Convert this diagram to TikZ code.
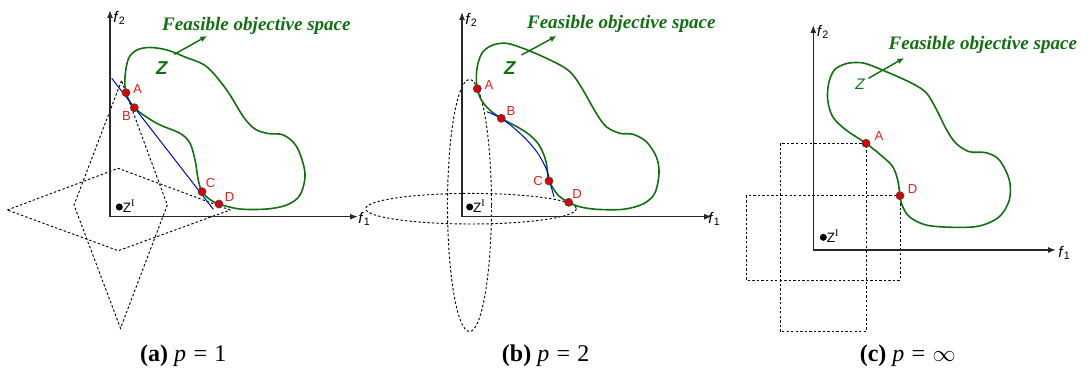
\documentclass[tikz,border=0pt]{standalone}
\usepackage{fontspec}
\setmainfont{Liberation Serif}
\setsansfont{Liberation Sans}
\usetikzlibrary{arrows.meta}
\definecolor{fgreen}{RGB}{18,112,18}
\definecolor{ptred}{RGB}{220,0,0}
\definecolor{labred}{RGB}{235,30,30}
\definecolor{axcol}{RGB}{40,40,40}
\definecolor{lblue}{RGB}{0,0,230}
\tikzset{
  ax/.style={draw=axcol, line width=1pt, -{Latex[length=6pt,width=4.5pt]}},
  feas/.style={draw=fgreen, line width=1.2pt},
  dsh/.style={draw=black, line width=0.7pt, dash pattern=on 1.8pt off 1.6pt},
  dot/.style={circle, draw=black!75, fill=ptred, inner sep=0pt, minimum size=6pt, line width=0.5pt},
  lab/.style={text=labred, font=\sffamily\fontsize{9.8}{11}\selectfont, inner sep=0pt},
  ftext/.style={text=fgreen, font=\bfseries\itshape\fontsize{14.3}{16}\selectfont, inner sep=0pt, anchor=base},
  zbig/.style={text=fgreen, font=\sffamily\bfseries\itshape\fontsize{14}{15}\selectfont, inner sep=0pt},
  zsmall/.style={text=fgreen, font=\sffamily\itshape\fontsize{11.5}{13}\selectfont, inner sep=0pt},
  garrow/.style={draw=fgreen, line width=1.1pt, -{Latex[length=5pt,width=4.5pt]}},
  idot/.style={circle, fill=black, inner sep=0pt, minimum size=5.3pt},
  ilab/.style={font=\sffamily\fontsize{10.2}{12}\selectfont, inner sep=0pt, anchor=west},
  flab/.style={font=\sffamily\fontsize{11.5}{13}\selectfont, inner sep=0pt},
  capt/.style={font=\fontsize{18}{20}\selectfont, inner sep=0pt, anchor=base},
  bl/.style={draw=lblue, line width=0.75pt}
}
\newcommand{\fa}[1]{\textit{f}\textsubscript{#1}}
\newcommand{\zi}{Z\raisebox{0.42em}{\rmfamily\fontsize{7.6}{8}\selectfont I}}
\begin{document}
\begin{tikzpicture}[x=0.75pt,y=-0.75pt]
\useasboundingbox (0,0) rectangle (1089,374);
% ================= panel (a) =================
\coordinate (oa) at (110,216.7);
\coordinate (ya) at (110,10);
\coordinate (xa) at (358,216.7);
% dashed diamonds
\coordinate (ta1) at (121.5,80.7);
\coordinate (ta2) at (74,205);
\coordinate (ta3) at (120.5,328.3);
\coordinate (ta4) at (167.3,205);
\draw[dsh] (ta1) -- (ta2) -- (ta3) -- (ta4) -- cycle;
\coordinate (wa1) at (7.3,210);
\coordinate (wa2) at (118.3,168.3);
\coordinate (wa3) at (230,210);
\coordinate (wa4) at (118.3,250.7);
\draw[dsh] (wa1) -- (wa2) -- (wa3) -- (wa4) -- cycle;
\draw[ax] (oa) -- (ya);
\draw[ax] (oa) -- (xa);
\node[flab, anchor=south west] (f2a) at (113,25) {\fa{2}};
\node[flab, anchor=west] (f1a) at (358,219) {\fa{1}};
\draw[feas] plot[smooth cycle, tension=0.55] coordinates {
 (126,92.7) (125,77) (128.5,58.5) (137,50) (150,47.5) (167,50) (185,57) (206.7,66.7)
 (226.7,90) (243.3,116.7) (255,129) (268,133.5) (283.3,135) (296.7,146.7) (305,173.3)
 (300,195) (286.7,205) (266.7,209) (240,209) (219,204) (210,199.5) (202,191.7) (198.3,180)
 (195,160) (190,143.3) (180,133.3) (156.7,123.3) (134.3,107.7)};
\coordinate (bla) at (111.7,78.3);
\coordinate (blb) at (213.3,209.3);
\draw[bl] (bla) -- (blb);
\node[dot] (Aa) at (126,92.7) {};
\node[dot] (Ba) at (134.3,107.7) {};
\node[dot] (Ca) at (202,191.7) {};
\node[dot] (Da) at (219,204) {};
\node[lab] (lAa) at (137.5,89) {A};
\node[lab] (lBa) at (126.5,116) {B};
\node[lab] (lCa) at (210.5,183) {C};
\node[lab] (lDa) at (229.5,197) {D};
\node[idot] (ia) at (119.3,207) {};
\node[ilab] (zia) at (122.5,206) {\zi};
\node[zbig] (Za) at (161.7,68.3) {Z};
\coordinate (ga1) at (174,54.5);
\coordinate (ga2) at (207,36);
\draw[garrow] (ga1) -- (ga2);
\node[ftext] (fta) at (256.4,30.7) {Feasible objective space};
\node[capt] (cpa) at (183.3,361) {\textbf{(a)}~\textit{p}\hspace{5.5pt}=\hspace{5.5pt}1};
% ================= panel (b) =================
\coordinate (ob) at (462,216.7);
\coordinate (yb) at (462,12);
\coordinate (xb) at (712,216.7);
\coordinate (eb1) at (469.5,205.5);
\coordinate (eb2) at (471,208.7);
\draw[dsh] (eb1) ellipse [x radius=22, y radius=126];
\draw[dsh] (eb2) ellipse [x radius=105.3, y radius=15.3];
\draw[ax] (ob) -- (yb);
\draw[ax] (ob) -- (xb);
\node[flab, anchor=south west] (f2b) at (465,27) {\fa{2}};
\node[flab, anchor=west] (f1b) at (708,219) {\fa{1}};
\draw[feas] plot[smooth cycle, tension=0.55] coordinates {
 (477.3,88.7) (476.3,76.7) (478,63.3) (483,51.7) (493,45) (506.3,43.3) (523,48.3) (543,56.7)
 (563,66.7) (573,75) (583,90) (596.3,113.3) (606.3,126.7) (619.7,133.3) (633,134.3) (646.3,141.7)
 (656.3,156.7) (659,173.3) (654.7,193.3) (643,204) (623,209.3) (596.3,209.3) (579.7,206.7)
 (568.7,202.3) (558,195) (549,181) (547.3,170) (545,158) (538,143.5) (525,131.5) (501.3,118.3)
 (489.7,110) (481.3,100)};
\draw[bl] plot[smooth, tension=0.6] coordinates {(486.7,111.7) (501.3,118.5) (520,133.3) (536.7,151.7) (546.7,170) (549.5,181) (554,196.7)};
\node[dot] (Ab) at (477.3,88.7) {};
\node[dot] (Bb) at (501.3,118.3) {};
\node[dot] (Cb) at (549,181) {};
\node[dot] (Db) at (568.7,202.3) {};
\node[lab] (lAb) at (489,85) {A};
\node[lab] (lBb) at (511,111.5) {B};
\node[lab] (lCb) at (538,181) {C};
\node[lab] (lDb) at (577,194) {D};
\node[idot] (ib) at (469.7,207) {};
\node[ilab] (zib) at (472.9,206) {\zi};
\node[zbig] (Zb) at (509.7,68.3) {Z};
\coordinate (gb1) at (521.5,55);
\coordinate (gb2) at (556.5,36);
\draw[garrow] (gb1) -- (gb2);
\node[ftext] (ftb) at (621.3,28.3) {Feasible objective space};
\node[capt] (cpb) at (545.7,361) {\textbf{(b)}~\textit{p}\hspace{5.5pt}=\hspace{5.5pt}2};
% ================= panel (c) =================
\coordinate (oc) at (813.3,250);
\coordinate (yc) at (813.3,25);
\coordinate (xc) at (1056,250);
\coordinate (rc1) at (780,143.3);
\coordinate (rc2) at (866,331.7);
\draw[dsh] (rc1) rectangle (rc2);
\coordinate (rc3) at (746,195.7);
\coordinate (rc4) at (900,280);
\draw[dsh] (rc3) rectangle (rc4);
\draw[ax] (oc) -- (yc);
\draw[ax] (oc) -- (xc);
\node[flab, anchor=south west] (f2c) at (816.5,39) {\fa{2}};
\node[flab, anchor=west] (f1c) at (1058,253) {\fa{1}};
\draw[feas] plot[smooth cycle, tension=0.55] coordinates {
 (866,143.3) (846,130) (832.7,116.7) (827.7,100) (828.7,83.3) (834.3,70) (845,64) (856,62.5)
 (867,64) (890,73.3) (913.3,84) (926.7,93.3) (936.7,110) (946.7,130) (956,143.3) (969.3,151.7)
 (986,152.7) (999.3,160) (1009.3,180) (1009.3,200) (999.3,216.7) (979.3,226) (952.7,227.3)
 (926,225) (909.3,216.7) (902,205) (900,195.7) (897.7,180) (892.7,166.7) (882.7,156.7)};
\node[dot] (Ac) at (866,143.3) {};
\node[dot] (Dc) at (900,195.7) {};
\node[lab] (lAc) at (879,136) {A};
\node[lab] (lDc) at (912.5,189) {D};
\node[idot] (ic) at (823.3,237.3) {};
\node[ilab] (zic) at (826.5,236.5) {\zi};
\node[zsmall] (Zc) at (860,84.3) {Z};
\coordinate (gc1) at (868.5,78.3);
\coordinate (gc2) at (904,58);
\draw[garrow] (gc1) -- (gc2);
\node[ftext] (ftc) at (982.8,50) {Feasible objective space};
\node[capt] (cpc) at (907.7,361) {\textbf{(c)}~\textit{p}\hspace{5.5pt}=\hspace{5.5pt}$\infty$};
\end{tikzpicture}
\end{document}
